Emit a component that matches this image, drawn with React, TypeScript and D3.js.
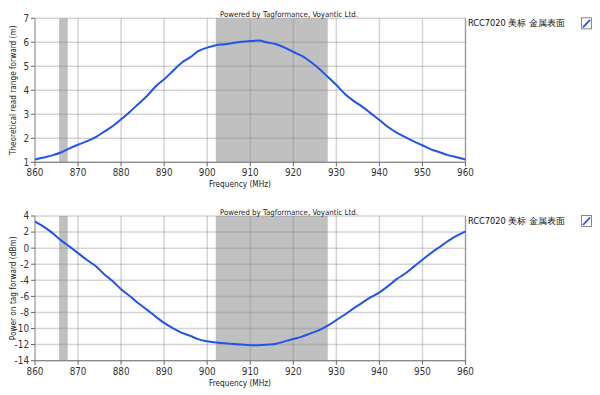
import React from "react";
import * as d3 from "d3";

const freqs = [860,862,864,866,868,870,872,874,876,878,880,882,884,886,888,890,892,894,896,898,900,902,904,906,908,910,912,914,916,918,920,922,924,926,928,930,932,934,936,938,940,942,944,946,948,950,952,954,956,958,960];

const readRange = [1.12,1.2,1.29,1.41,1.58,1.73,1.87,2.04,2.27,2.5,2.79,3.1,3.43,3.76,4.16,4.46,4.8,5.14,5.37,5.64,5.78,5.88,5.92,5.97,6.02,6.05,6.07,5.99,5.92,5.78,5.6,5.43,5.19,4.9,4.56,4.22,3.85,3.56,3.32,3.04,2.76,2.47,2.24,2.05,1.87,1.71,1.54,1.42,1.3,1.21,1.12];

const powerOnTag = [3.3,2.67,1.9,1.0,0.2,-0.62,-1.45,-2.2,-3.2,-4.1,-5.1,-5.95,-6.85,-7.65,-8.5,-9.3,-9.95,-10.5,-10.9,-11.35,-11.58,-11.75,-11.83,-11.92,-12.0,-12.07,-12.07,-12.0,-11.88,-11.6,-11.3,-11.0,-10.6,-10.2,-9.65,-8.95,-8.25,-7.5,-6.8,-6.1,-5.5,-4.72,-3.85,-3.15,-2.3,-1.45,-0.6,0.15,0.9,1.55,2.1];

const xTicks = [860,870,880,890,900,910,920,930,940,950,960];
const yTicksTop = [1,2,3,4,5,6,7];
const yTicksBottom = [-14,-12,-10,-8,-6,-4,-2,0,2,4];
const bands: [number, number][] = [[865.6, 867.6], [902, 928]];

const seriesName = "RCC7020 美标 金属表面";
const watermark = "Powered by Tagformance, Voyantic Ltd.";
const xTitle = "Frequency (MHz)";
const yTitleTop = "Theoretical read range forward (m)";
const yTitleBottom = "Power on tag forward (dBm)";

const FONT = "'DejaVu Sans Condensed', 'Liberation Sans', sans-serif";
const LINE = "#1f55ee";

type ChartProps = {
  top: number;
  bottom: number;
  values: number[];
  domain: [number, number];
  ticks: number[];
  yTitle: string;
};

function Chart({ top, bottom, values, domain, ticks, yTitle }: ChartProps) {
  const left = 35;
  const right = 465.5;
  const x = d3.scaleLinear().domain([860, 960]).range([left, right]);
  const y = d3.scaleLinear().domain(domain).range([bottom, top]);
  const line = d3
    .line<number>()
    .x((_, i) => x(freqs[i]))
    .y((d) => y(d))
    .curve(d3.curveMonotoneX);
  return (
    <g>
      {bands.map(([a, b], i) => (
        <rect key={i} x={x(a)} y={top} width={x(b) - x(a)} height={bottom - top} fill="#c0c0c0" />
      ))}
      {xTicks.map((t) => (
        <line key={"gx" + t} x1={x(t)} x2={x(t)} y1={top} y2={bottom} stroke="#888" strokeOpacity={0.35} strokeWidth={1.5} />
      ))}
      {ticks.map((t) => (
        <line key={"gy" + t} x1={left} x2={right} y1={y(t)} y2={y(t)} stroke="#888" strokeOpacity={0.35} strokeWidth={1.5} />
      ))}
      <line x1={left} x2={left} y1={top} y2={bottom} stroke="#a8a8a8" strokeWidth={1.2} />
      <line x1={right} x2={right} y1={top} y2={bottom} stroke="#9a9a9a" strokeWidth={1.2} />
      <line x1={left} x2={right} y1={bottom} y2={bottom} stroke="#8a8a8a" strokeWidth={1.2} />
      {ticks.map((t) => (
        <g key={"ty" + t}>
          <line x1={left - 4} x2={left} y1={y(t)} y2={y(t)} stroke="#666" />
          <text x={left - 6} y={y(t) + 3.4} textAnchor="end" fontSize={9.8} fill="#333" fontFamily={FONT}>{t}</text>
        </g>
      ))}
      {xTicks.map((t) => (
        <g key={"tx" + t}>
          <line x1={x(t)} x2={x(t)} y1={bottom} y2={bottom + 4} stroke="#666" />
          <text x={x(t)} y={bottom + 14} textAnchor="middle" fontSize={9.8} fill="#333" fontFamily={FONT}>{t}</text>
        </g>
      ))}
      <text x={240} y={bottom + 25} textAnchor="middle" fontSize={8.2} fill="#222" fontFamily={FONT}>{xTitle}</text>
      <text transform={`translate(16,${(top + bottom) / 2}) rotate(-90)`} textAnchor="middle" fontSize={8.2} fill="#222" fontFamily={FONT}>{yTitle}</text>
      <path d={line(values) ?? ""} fill="none" stroke={LINE} strokeWidth={2} />
      <text x={289} y={top - 1.5} textAnchor="middle" fontSize={7.8} fill="#222" fontFamily={FONT}>{watermark}</text>
      <text x={468} y={top + 7.5} fontSize={9.2} fill="#111" fontFamily={FONT}>{seriesName}</text>
      <rect x={581.5} y={top - 0.5} width={10} height={11} fill="#fff" stroke="#888" />
      <line x1={583} x2={590} y1={top + 9} y2={top + 1.5} stroke={LINE} strokeWidth={1.8} />
    </g>
  );
}

export default function App() {
  return (
    <svg width={600} height={395} style={{ position: "absolute", left: 0, top: 0, background: "#fff" }}>
      <Chart top={18.3} bottom={162.3} values={readRange} domain={[1, 7]} ticks={yTicksTop} yTitle={yTitleTop} />
      <Chart top={216} bottom={360.7} values={powerOnTag} domain={[-14, 4]} ticks={yTicksBottom} yTitle={yTitleBottom} />
    </svg>
  );
}
